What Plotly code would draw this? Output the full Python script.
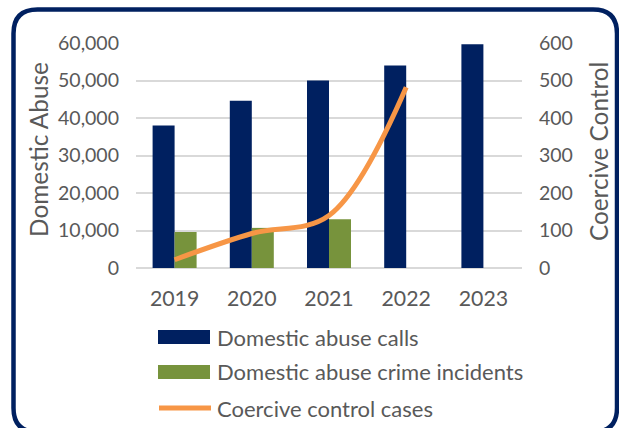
import plotly.graph_objects as go

years = ["2019", "2020", "2021", "2022", "2023"]
calls = [38000, 44600, 50000, 54000, 59700]
incidents = [9600, 10700, 13000, None, None]
coercive = [22, 92, 140, 482, None]

NAVY = "#002060"
GREEN = "#77933C"
ORANGE = "#F79646"
TXT = "#595959"
GRID = "#D9D9D9"
FONT = "Lato"

W, H = 619, 428
L, R, T, B = 136, 97, 43, 160
PW, PH = W - L - R, H - T - B


def px(x):
    return (x - L) / PW


def py(y):
    return (H - B - y) / PH


fig = go.Figure()
fig.add_trace(go.Bar(x=years, y=calls, name="Domestic abuse calls",
                     marker=dict(color=NAVY, line=dict(width=0))))
fig.add_trace(go.Bar(x=years, y=incidents, name="Domestic abuse crime incidents",
                     marker=dict(color=GREEN, line=dict(width=0))))
fig.add_trace(go.Scatter(x=years, y=coercive, name="Coercive control cases", yaxis="y2",
                         mode="lines", line=dict(color=ORANGE, width=5, shape="spline", smoothing=1.0)))

fig.update_layout(
    width=W, height=H,
    margin=dict(l=L, r=R, t=T, b=B, autoexpand=False),
    paper_bgcolor="white", plot_bgcolor="white",
    barmode="group", bargap=0.43, bargroupgap=0,
    showlegend=False,
    font=dict(family=FONT, color=TXT),
    xaxis=dict(type="category", showgrid=False, showline=False, ticks="",
               tickfont=dict(size=21.3, color=TXT), ticklabelstandoff=16),
    yaxis=dict(range=[0, 60000], tickvals=[0, 10000, 20000, 30000, 40000, 50000, 60000],
               tickformat=",", showgrid=True, gridcolor=GRID, gridwidth=1.5,
               zeroline=True, zerolinecolor=GRID, zerolinewidth=1.5, showline=False, ticks="",
               tickfont=dict(size=19.5, color=TXT), ticklabelstandoff=16),
    yaxis2=dict(range=[0, 600], tickvals=[0, 100, 200, 300, 400, 500, 600], overlaying="y",
                side="right", showgrid=False, zeroline=False, showline=False, ticks="",
                tickfont=dict(size=19.5, color=TXT), ticklabelstandoff=16),
)

# axis titles
fig.add_annotation(text="Domestic Abuse", xref="paper", yref="paper", x=px(38), y=py(150),
                   textangle=-90, showarrow=False, font=dict(size=24.4, color=TXT, family=FONT),
                   xanchor="center", yanchor="middle")
fig.add_annotation(text="Coercive Control", xref="paper", yref="paper", x=px(598), y=py(152),
                   textangle=-90, showarrow=False, font=dict(size=24.3, color=TXT, family=FONT),
                   xanchor="center", yanchor="middle")

# manual legend
legend_items = [
    ("Domestic abuse calls", "bar", NAVY, 337),
    ("Domestic abuse crime incidents", "bar", GREEN, 372),
    ("Coercive control cases", "line", ORANGE, 408),
]
for label, kind, col, yc in legend_items:
    if kind == "bar":
        fig.add_shape(type="rect", xref="paper", yref="paper", x0=px(158), x1=px(210),
                      y0=py(yc - 7), y1=py(yc + 7), fillcolor=col, line=dict(width=0))
    else:
        fig.add_shape(type="line", xref="paper", yref="paper", x0=px(159), x1=px(211),
                      y0=py(yc), y1=py(yc), line=dict(color=col, width=5))
    fig.add_annotation(text=label, xref="paper", yref="paper", x=px(215), y=py(yc),
                       xanchor="left", yanchor="middle", showarrow=False,
                       font=dict(size=22, color=TXT, family=FONT))

# rounded border
x0, x1, y0, y1, r = 13.5, 617, 9.5, 432, 24
path = (f"M {px(x0 + r)},{py(y0)} L {px(x1 - r)},{py(y0)} "
        f"Q {px(x1)},{py(y0)} {px(x1)},{py(y0 + r)} "
        f"L {px(x1)},{py(y1 - r)} Q {px(x1)},{py(y1)} {px(x1 - r)},{py(y1)} "
        f"L {px(x0 + r)},{py(y1)} Q {px(x0)},{py(y1)} {px(x0)},{py(y1 - r)} "
        f"L {px(x0)},{py(y0 + r)} Q {px(x0)},{py(y0)} {px(x0 + r)},{py(y0)} Z")
fig.add_shape(type="path", xref="paper", yref="paper", path=path,
              line=dict(color=NAVY, width=4.5), fillcolor="rgba(0,0,0,0)")

fig.write_html("out.html")
